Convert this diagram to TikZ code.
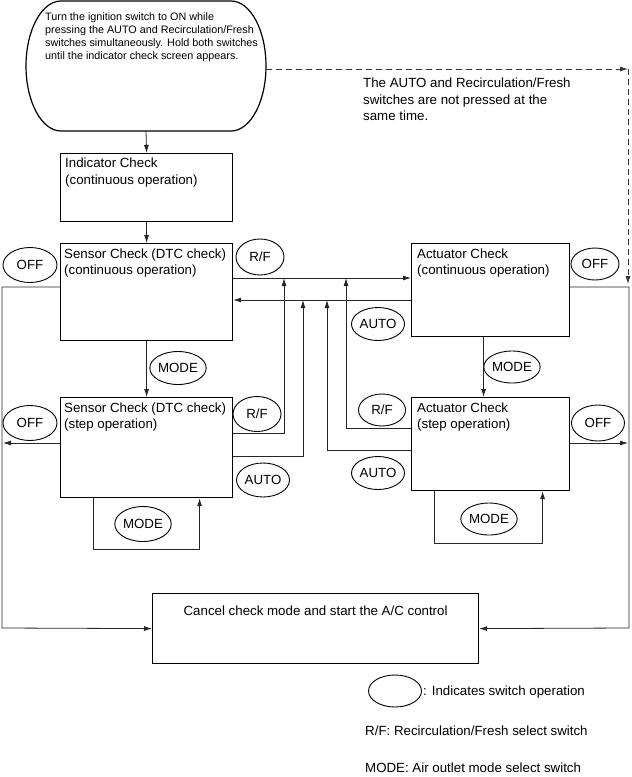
\documentclass[tikz,border=0pt]{standalone}
\usepackage{fontspec}
\setmainfont{Liberation Sans}
\usetikzlibrary{shapes.geometric,arrows.meta,calc}
\begin{document}
\begin{tikzpicture}[x=1pt,y=-1pt,
  box/.style={draw, line width=1.2pt, rectangle, inner sep=0pt, anchor=north west},
  btext/.style={anchor=north west, inner sep=0pt, align=left, font=\fontsize{13.3}{16.2}\selectfont},
  sw/.style={draw, ellipse, line width=0.9pt, inner sep=0pt, minimum width=52pt, minimum height=34pt, font=\fontsize{13.3}{15}\selectfont},
  conn/.style={line width=0.8pt, draw=black!85},
  arr/.style={conn, -{Latex[length=8pt,width=5pt]}},
  dsh/.style={line width=0.8pt, draw=black!80, dash pattern=on 6pt off 4pt, -{Latex[length=8pt,width=5pt]}}
]
\useasboundingbox (0,0) rectangle (632,777);

% start stadium
\draw[line width=1.2pt] (61,1) -- (231,1) arc[start angle=-90,end angle=90,x radius=35,y radius=65] -- (61,131) arc[start angle=90,end angle=270,x radius=35,y radius=65] -- cycle;
\node[inner sep=0pt, minimum width=240pt, minimum height=130pt] (start) at (146,66) {};
\node[anchor=north west, inner sep=0pt, align=left, font=\fontsize{10.8}{13}\selectfont] (starttxt) at (45,12)
  {Turn the ignition switch to ON while\\pressing the AUTO and Recirculation/Fresh\\switches simultaneously. Hold both switches\\until the indicator check screen appears.};

% boxes
\node[box, minimum width=172pt, minimum height=68pt] (ind) at (60,153) {};
\node[btext] (indt) at (65,158) {Indicator Check\\(continuous operation)};
\node[box, minimum width=172pt, minimum height=97pt] (sc) at (60,243) {};
\node[btext] (sct) at (64,248.5) {Sensor Check (DTC check)\\(continuous operation)};
\node[box, minimum width=172pt, minimum height=100pt] (ss) at (60,397) {};
\node[btext] (sst) at (64,402.5) {Sensor Check (DTC check)\\(step operation)};
\node[box, minimum width=158pt, minimum height=93pt] (ac) at (411,243) {};
\node[btext] (act) at (417,248.5) {Actuator Check\\(continuous operation)};
\node[box, minimum width=158pt, minimum height=93pt] (as) at (411,397) {};
\node[btext] (ast) at (417,402.5) {Actuator Check\\(step operation)};
\node[box, minimum width=326pt, minimum height=70pt] (cancel) at (152,593) {};
\node[anchor=north, inner sep=0pt, font=\fontsize{13.3}{16}\selectfont] (cancelt) at ([yshift=-13pt]cancel.north) {Cancel check mode and start the A/C control};

% note text
\node[btext, font=\fontsize{13.3}{16.5}\selectfont] (note) at (363,78) {The AUTO and Recirculation/Fresh\\switches are not pressed at the\\same time.};

% switch ellipses
\node[sw, minimum width=54pt, minimum height=35pt] (off1) at (30,265) {OFF};
\node[sw, minimum width=48pt, minimum height=36pt] (rf1) at (260,257) {R/F};
\node[sw, minimum height=33pt] (mode1) at (178,368) {MODE};
\node[sw, minimum width=54pt, minimum height=35pt] (off2) at (30,423) {OFF};
\node[sw, minimum width=48pt, minimum height=35pt] (rf2) at (257,414) {R/F};
\node[sw, minimum width=53pt] (auto2) at (263,480) {AUTO};
\node[sw, minimum width=54pt, minimum height=35pt] (mode2) at (143,524) {MODE};
\node[sw, minimum width=47pt, minimum height=32pt] (rf3) at (382,410) {R/F};
\node[sw, minimum width=53pt, minimum height=33pt] (auto3) at (378,473) {AUTO};
\node[sw, minimum width=53pt, minimum height=36pt] (off3) at (598,423) {OFF};
\node[sw, minimum width=55pt, minimum height=32pt] (mode3) at (489,519) {MODE};
\node[sw, minimum width=53pt, minimum height=33pt] (auto4) at (378,324) {AUTO};
\node[sw, minimum width=50pt, minimum height=32pt] (mode4) at (512,367) {MODE};
\node[sw, minimum width=48pt, minimum height=32pt] (off4) at (595,264) {OFF};

% legend
\node[sw, minimum width=53pt, minimum height=32pt] (leg) at (395,691) {};
\node[anchor=west, inner sep=0pt, font=\fontsize{13.3}{15}\selectfont] (legt) at (423,692) {: Indicates switch operation};
\node[anchor=west, inner sep=0pt, font=\fontsize{13.3}{15}\selectfont] (legrf) at (365,731) {R/F: Recirculation/Fresh select switch};
\node[anchor=west, inner sep=0pt, font=\fontsize{13.3}{15}\selectfont] (legmode) at (365,768) {MODE: Air outlet mode select switch};

% coordinates
\coordinate (j1) at (284,278);
\coordinate (j2) at (303,300);
\coordinate (j3) at (346,278);
\coordinate (j4) at (327,300);
\coordinate (L) at (2,628);
\coordinate (R) at (629,628);
\coordinate (d1) at (628,69);
\coordinate (d2) at (628,284);
\coordinate (lo) at (3,443);
\coordinate (ro) at (628,443);

% vertical flow
\draw[arr] (start.south) -- (ind.north);
\draw[arr] (ind.south) -- (sc.north);
\draw[arr] (sc.south) -- (ss.north);
\draw[arr] ([xshift=-7pt]ac.south) -- ([xshift=-7pt]as.north);

% horizontal between continuous boxes
\draw[arr] ([yshift=-35pt]sc.north east) -- ([yshift=-35pt]ac.north west);
\draw[arr] ([yshift=-57pt]ac.north west) -- ([yshift=-57pt]sc.north east);

% step to continuous
\draw[arr] ([yshift=-36pt]ss.north east) -| (j1);
\draw[arr] ([yshift=-59pt]ss.north east) -| (j2);
\draw[arr] ([yshift=-31pt]as.north west) -| (j3);
\draw[arr] ([yshift=-53pt]as.north west) -| (j4);

% OFF paths
\draw[arr] ([yshift=-44pt]sc.north west) -| (L) -- (cancel.west);
\draw[arr] ([yshift=-46pt]ss.north west) -- (lo);
\draw[arr] ([yshift=-44pt]ac.north east) -| (R) -- (cancel.east);
\draw[arr] ([yshift=-46pt]as.north east) -- (ro);

% MODE loops
\draw[arr] ([xshift=-53pt]ss.south) -- ++(0,51) -| ([xshift=53pt]ss.south);
\draw[arr] ([xshift=-56pt]as.south) -- ++(0,52) -| ([xshift=52pt]as.south);

% dashed
\draw[dsh] ([yshift=-3pt]start.east) -- (d1);
\draw[dsh] (d1) -- (d2);
\end{tikzpicture}
\end{document}
